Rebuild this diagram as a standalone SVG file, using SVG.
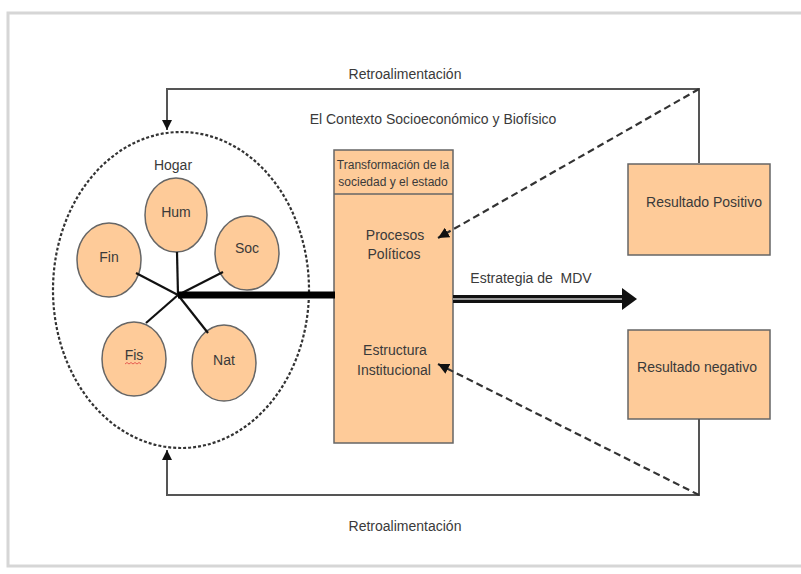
<svg xmlns="http://www.w3.org/2000/svg" width="801" height="574" viewBox="0 0 801 574">
<style>
  .t{font-family:"Liberation Sans",Arial,sans-serif;fill:#3a3a3a;text-anchor:middle}
  .cap{font-size:12px}
  .lbl{font-size:14px}
  .node{fill:#FECB99;stroke:#666;stroke-width:1.5}
  .line{fill:none;stroke:#555;stroke-width:2}
  .dash{fill:none;stroke:#333;stroke-width:2.2;stroke-dasharray:7 4}
  .spoke{stroke:#111;stroke-width:2.2}
</style>
<defs>
  <marker id="ah" viewBox="0 0 10 10" refX="10" refY="5" markerWidth="5" markerHeight="5" orient="auto" markerUnits="strokeWidth">
    <path d="M0,0 L10,5 L0,10 z" fill="#111"/>
  </marker>
</defs>
<rect x="0" y="0" width="801" height="574" fill="#fff"/>
<rect x="8" y="13" width="800" height="553" fill="#fff" stroke="#d6d6d6" stroke-width="3"/>

<g id="hogar">
  <ellipse cx="181" cy="290" rx="128" ry="158" fill="none" stroke="#333" stroke-width="2.2" stroke-dasharray="3 2"/>
  <text class="t lbl" x="173" y="170">Hogar</text>
</g>
<g id="hum"><ellipse class="node" cx="176" cy="215" rx="31" ry="37"/><text class="t lbl" x="176" y="217">Hum</text></g>
<g id="fin"><ellipse class="node" cx="109" cy="260" rx="32" ry="37"/><text class="t lbl" x="109" y="262">Fin</text></g>
<g id="soc"><ellipse class="node" cx="247" cy="253" rx="32" ry="37"/><text class="t lbl" x="247" y="253">Soc</text></g>
<g id="fis"><ellipse class="node" cx="134" cy="359" rx="32" ry="37"/><text class="t lbl" x="134" y="360">Fis</text>
  <path d="M125,364 l2,-1.5 l2,1.5 l2,-1.5 l2,1.5 l2,-1.5 l2,1.5 l2,-1.5 l2,1.5" fill="none" stroke="#e04040" stroke-width="0.8"/></g>
<g id="nat"><ellipse class="node" cx="224" cy="363" rx="32" ry="38"/><text class="t lbl" x="224" y="365">Nat</text></g>

<g id="transformacion">
  <rect class="node" x="334" y="150" width="119" height="293"/>
  <line x1="334" y1="194" x2="453" y2="194" stroke="#666" stroke-width="1.5"/>
  <text class="t cap" x="393" y="169">Transformación de la</text>
  <text class="t cap" x="393" y="186">sociedad y el estado</text>
  <text class="t lbl" x="395" y="240">Procesos</text>
  <text class="t lbl" x="394" y="259">Políticos</text>
  <text class="t lbl" x="395" y="355">Estructura</text>
  <text class="t lbl" x="394" y="375">Institucional</text>
</g>

<g id="positivo">
  <rect class="node" x="628" y="164" width="142" height="91"/>
  <text class="t lbl" x="704" y="207">Resultado Positivo</text>
</g>
<g id="negativo">
  <rect class="node" x="628" y="330" width="142" height="89"/>
  <text class="t lbl" x="697" y="372">Resultado negativo</text>
</g>

<g id="connectors">
  <polyline class="line" points="699,163 699,89 167,89 167,130" marker-end="url(#ah)"/>
  <polyline class="line" points="699,419 699,495 167,495 167,450" marker-end="url(#ah)"/>
  <line class="dash" x1="699" y1="89" x2="438" y2="238" marker-end="url(#ah)"/>
  <line class="dash" x1="699" y1="495" x2="438" y2="364" marker-end="url(#ah)"/>
  <line class="spoke" x1="178" y1="295" x2="177" y2="252"/>
  <line class="spoke" x1="178" y1="295" x2="136" y2="273"/>
  <line class="spoke" x1="178" y1="295" x2="223" y2="272"/>
  <line class="spoke" x1="178" y1="295" x2="146" y2="323"/>
  <line class="spoke" x1="178" y1="295" x2="208" y2="333"/>
  <line x1="178" y1="295" x2="335" y2="295" stroke="#000" stroke-width="7"/>
  <line x1="453" y1="299" x2="625" y2="299" stroke="#111" stroke-width="8"/>
  <line x1="453" y1="299" x2="625" y2="299" stroke="#999" stroke-width="2"/>
  <polygon points="622,288 637,299 622,310" fill="#111"/>
</g>

<g id="labels">
  <text class="t lbl" x="405" y="79">Retroalimentación</text>
  <text class="t lbl" x="433" y="124">El Contexto Socioeconómico y Biofísico</text>
  <text class="t lbl" x="531" y="283" xml:space="preserve">Estrategia de  MDV</text>
  <text class="t lbl" x="405" y="531">Retroalimentación</text>
</g>
</svg>
